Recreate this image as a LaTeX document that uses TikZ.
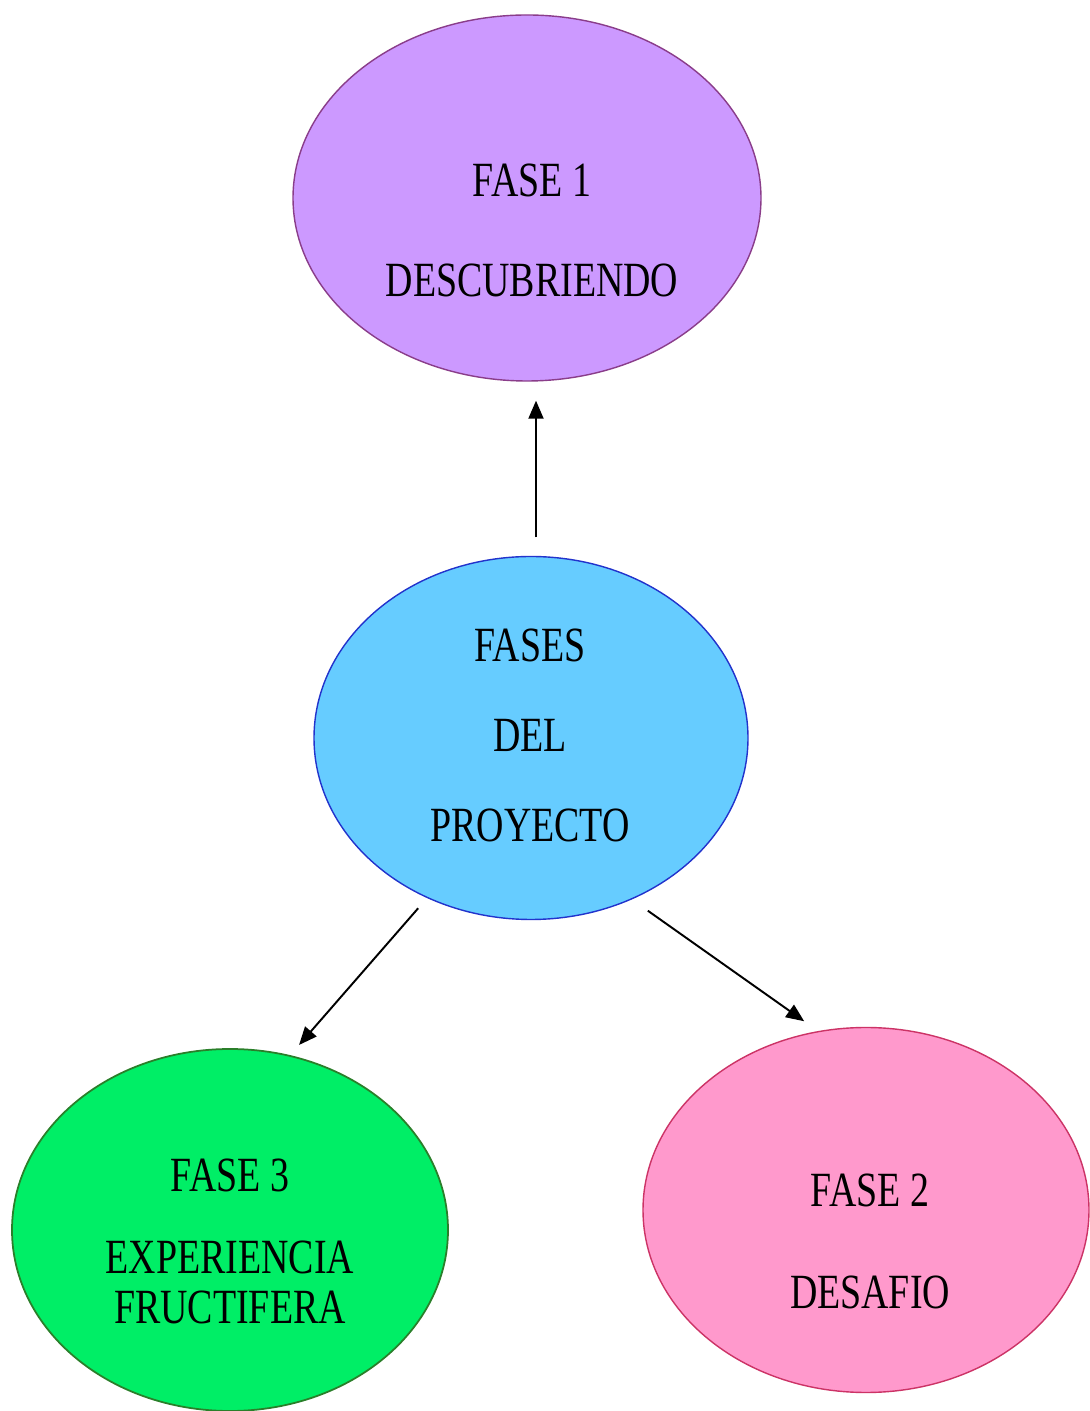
\documentclass[tikz,border=0pt]{standalone}
\usepackage{fontspec}
\setmainfont[FakeStretch=0.77]{Liberation Serif}
\usetikzlibrary{shapes.geometric, arrows.meta}

\definecolor{lila}{HTML}{CC99FF}
\definecolor{lilaborde}{HTML}{8A3D8A}
\definecolor{celeste}{HTML}{66CCFF}
\definecolor{celesteborde}{HTML}{2233CC}
\definecolor{verde}{HTML}{00EE66}
\definecolor{verdeborde}{HTML}{2A7F2A}
\definecolor{rosa}{HTML}{FF99CC}
\definecolor{rosaborde}{HTML}{CC3366}

\begin{document}
\begin{tikzpicture}[x=1cm, y=1cm,
  fase/.style={ellipse, line width=0.8pt, inner sep=0pt},
  rotulo/.style={align=center, font=\fontsize{28pt}{34pt}\selectfont},
  flecha/.style={line width=1.1pt, -{Triangle[length=0.36cm, width=0.3cm]}}]
  \useasboundingbox (0,0) rectangle (21.78,28.22);

  % --- elipses ---
  \node[fase, fill=lila, draw=lilaborde, minimum width=9.36cm, minimum height=7.32cm] (fase1) at (10.54,24.26) {};
  \node[fase, fill=celeste, draw=celesteborde, minimum width=8.68cm, minimum height=7.26cm] (proyecto) at (10.62,13.46) {};
  \node[fase, fill=verde, draw=verdeborde, line width=1pt, minimum width=8.72cm, minimum height=7.24cm] (fase3) at (4.60,3.62) {};
  \node[fase, fill=rosa, draw=rosaborde, minimum width=8.92cm, minimum height=7.30cm] (fase2) at (17.32,4.02) {};

  % --- textos ---
  \node[rotulo] (t1) at (10.64,23.62) {FASE 1\\[22.9pt]DESCUBRIENDO};
  \node[rotulo] (tp) at (10.60,13.51) {FASES\\[17.2pt]DEL\\[17.2pt]PROYECTO};
  \node[rotulo] (t3) at (4.60,3.39) {FASE 3\\[13pt]EXPERIENCIA\\[-5.5pt]FRUCTIFERA};
  \node[rotulo] (t2) at (17.40,3.40) {FASE 2\\[24pt]DESAFIO};

  % --- flechas ---
  \draw[flecha, shorten <=0.37cm, shorten >=0.38cm] ([xshift=1mm]proyecto.north) -- ([xshift=1mm]proyecto.north |- fase1.south);
  \draw[flecha, shorten <=0.27cm, shorten >=0.27cm] (proyecto.237) -- (fase3.71);
  \draw[flecha, shorten <=0.39cm, shorten >=0.34cm] (proyecto.302) -- (fase2.105);
\end{tikzpicture}
\end{document}
